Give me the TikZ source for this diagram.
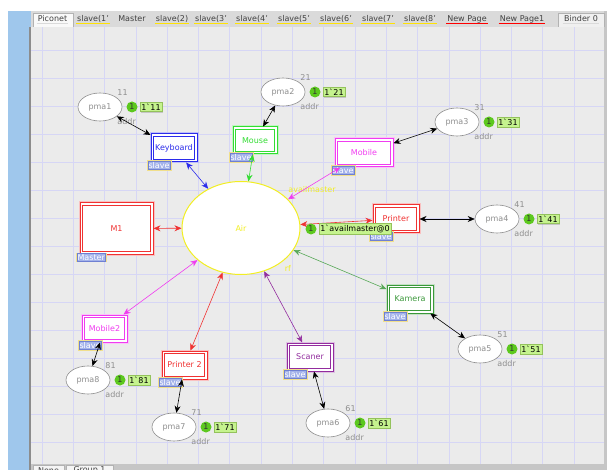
\documentclass[tikz,border=0pt]{standalone}
\usepackage{fontspec}
\setmainfont{DejaVu Sans}
\usepackage{tikz}
\usetikzlibrary{shapes,arrows.meta,positioning,shadows}

\definecolor{canvasbg}{HTML}{EBEBEB}
\definecolor{gridcol}{HTML}{D6D6F5}
\definecolor{panelblue}{HTML}{9FC7EC}
\definecolor{tabbar}{HTML}{DADADA}
\definecolor{airyellow}{HTML}{F2EE22}
\definecolor{tagfill}{HTML}{A3B2EA}
\definecolor{tagline}{HTML}{6F80D2}
\definecolor{tagglow}{HTML}{F1DF8C}
\definecolor{tokfill}{HTML}{5CC81E}
\definecolor{markfill}{HTML}{C5F38E}
\definecolor{markline}{HTML}{94C25C}
\definecolor{placegray}{HTML}{8E8E8E}
\definecolor{kbdblue}{HTML}{2B2BEB}
\definecolor{mousegreen}{HTML}{33DD33}
\definecolor{mobmagenta}{HTML}{F03CF0}
\definecolor{prnred}{HTML}{F03232}
\definecolor{kamgreen}{HTML}{3A983A}
\definecolor{scanpurple}{HTML}{922C9E}

\tikzset{
  place/.style={ellipse, draw=placegray, line width=0.6pt, fill=white, text=placegray, minimum width=44pt, minimum height=28pt, inner sep=0pt},
  subst/.style={rectangle, draw=#1, line width=1pt, fill=white, text=#1, minimum width=46pt, minimum height=28pt, inner sep=1pt,
    preaction={draw=#1!30, line width=3pt},
    path picture={\draw[#1, line width=0.6pt] ([shift={(2.3pt,-2.3pt)}]path picture bounding box.north west) rectangle ([shift={(-2.3pt,2.3pt)}]path picture bounding box.south east);}},
  tag/.style={fill=tagfill, draw=tagline, text=white, inner sep=0.8pt, line width=0.5pt, anchor=west, preaction={draw=tagglow, line width=2.4pt}},
  lbl/.style={text=placegray, inner sep=1.5pt},
  tok/.style={circle, fill=tokfill, inner sep=0pt, minimum size=11pt, text=black!80},
  marking/.style={fill=markfill, draw=markline, inner sep=1.5pt, line width=0.4pt, drop shadow={shadow xshift=1pt, shadow yshift=-1pt, opacity=0.35}},
  arc/.style={{Stealth[length=7pt,width=6pt]}-{Stealth[length=7pt,width=6pt]}, line width=0.6pt},
  tabtext/.style={text=black!75, inner sep=1pt}
}

\begin{document}
\begin{tikzpicture}[x=1pt, y=-1pt, font=\fontsize{8}{9.5}\selectfont]
    \useasboundingbox (0,0) rectangle (607,470);
    \clip (0,0) rectangle (607,470);
    % window frame and canvas
    \fill[white] (0,0) rectangle (607,470);
    \fill[panelblue] (8,11) rectangle (31,470);
    \fill[black!45] (29,27) rectangle (31,470);
    \fill[canvasbg] (31,27) rectangle (604,464);
    \draw[gridcol, shift={(10.5,22)}, xstep=31.3pt, ystep=28pt] (20.5,5) grid (593.5,442);
    \fill[gray!45] (604,11) rectangle (607,470);

    % page tabs
    \fill[tabbar] (31,11) rectangle (604,27);
    \draw[gray!60, fill=gray!5] (33,27) -- (33,13) -- (73,13) -- (73,27);
    \draw[gray!60, fill=gray!12] (558,27) -- (558,13) -- (604,13) -- (604,27);
    \foreach \x/\t/\c [count=\i] in {52.5/Piconet/tabbar, 93/slave(1'/yellow!85!orange, 132/Master/tabbar,
        172/slave(2)/yellow!85!orange, 211/slave(3'/yellow!85!orange, 252/slave(4'/yellow!85!orange,
        294/slave(5'/yellow!85!orange, 336/slave(6'/yellow!85!orange, 378/slave(7'/yellow!85!orange,
        420/slave(8'/yellow!85!orange, 467/New Page/red, 522/New Page1/red, 581/Binder 0/tabbar} {
      \node[tabtext] (tab\i) at (\x,19) {\t};
      \draw[\c, line width=1pt] (tab\i.south west) -- (tab\i.south east);
    }

    % group tabs at the bottom
    \fill[gray!45] (31,464) rectangle (604,470);
    \draw[gray!60, fill=gray!8] (33,470) -- (33,465) -- (64,465) -- (64,470);
    \draw[gray!60, fill=gray!8] (66,470) -- (66,465) -- (113,465) -- (113,470);
    \node[tabtext] (none) at (48.5,470.5) {None};
    \node[tabtext] (grp) at (89.5,470.5) {Group 1};

    % shared medium
    \node[ellipse, draw=airyellow, line width=1pt, fill=white, text=airyellow, minimum width=118pt, minimum height=93pt] (air) at (241,228) {Air};
    \node[text=airyellow, inner sep=0pt] (airtype) at (312,190) {availmaster};
    \node[text=airyellow, inner sep=0pt] (airfus) at (288,268) {rf};

    % master and slave devices
    \node[subst=prnred, minimum width=73pt, minimum height=51pt] (m1) at (116.5,228.5) {M1};
    \node[subst=kbdblue] (kbd) at (174,148) {Keyboard};
    \node[subst=mousegreen, minimum width=44pt, minimum height=27pt] (mouse) at (255,140.5) {Mouse};
    \node[subst=mobmagenta, minimum width=58pt] (mobile) at (364,153) {Mobile};
    \node[subst=prnred] (printer) at (396,219) {Printer};
    \node[subst=kamgreen] (kamera) at (410,299) {Kamera};
    \node[subst=scanpurple] (scaner) at (310,357) {Scaner};
    \node[subst=prnred, minimum width=45pt] (printer2) at (184.5,365) {Printer 2};
    \node[subst=mobmagenta, minimum width=45pt, minimum height=27pt] (mobile2) at (104.5,328.5) {Mobile2};

    \node[tag] (m1tag) at ([shift={(-3,3)}]m1.south west) {Master};
    \node[tag] (kbdtag) at ([shift={(-3,3)}]kbd.south west) {slave};
    \node[tag] (mousetag) at ([shift={(-3,3)}]mouse.south west) {slave};
    \node[tag] (mobiletag) at ([shift={(-3,3)}]mobile.south west) {slave};
    \node[tag] (printertag) at ([shift={(-3,3)}]printer.south west) {slave};
    \node[tag] (kameratag) at ([shift={(-3,3)}]kamera.south west) {slave};
    \node[tag] (scanertag) at ([shift={(-3,3)}]scaner.south west) {slave};
    \node[tag] (printer2tag) at ([shift={(-3,3)}]printer2.south west) {slave};
    \node[tag] (mobile2tag) at ([shift={(-3,3)}]mobile2.south west) {slave};

    % address places
    \node[place] (pma1) at (100,107) {pma1};
    \node[place] (pma2) at (283,92) {pma2};
    \node[place] (pma3) at (457,122) {pma3};
    \node[place] (pma4) at (497,219) {pma4};
    \node[place] (pma5) at (480,349) {pma5};
    \node[place] (pma6) at (328,423) {pma6};
    \node[place] (pma7) at (174,427) {pma7};
    \node[place] (pma8) at (88,380) {pma8};

    \node[lbl, anchor=south west] (num1) at (pma1.north east) {11};
    \node[lbl, anchor=south west] (num2) at (pma2.north east) {21};
    \node[lbl, anchor=south west] (num3) at (pma3.north east) {31};
    \node[lbl, anchor=south west] (num4) at (pma4.north east) {41};
    \node[lbl, anchor=south west] (num5) at (pma5.north east) {51};
    \node[lbl, anchor=south west] (num6) at (pma6.north east) {61};
    \node[lbl, anchor=south west] (num7) at (pma7.north east) {71};
    \node[lbl, anchor=south west] (num8) at (pma8.north east) {81};

    \node[lbl, anchor=north west] (addr1) at (pma1.south east) {addr};
    \node[lbl, anchor=north west] (addr2) at (pma2.south east) {addr};
    \node[lbl, anchor=north west] (addr3) at (pma3.south east) {addr};
    \node[lbl, anchor=north west] (addr4) at (pma4.south east) {addr};
    \node[lbl, anchor=north west] (addr5) at (pma5.south east) {addr};
    \node[lbl, anchor=north west] (addr6) at (pma6.south east) {addr};
    \node[lbl, anchor=north west] (addr7) at (pma7.south east) {addr};
    \node[lbl, anchor=north west] (addr8) at (pma8.south east) {addr};

    % arcs
    \draw[arc] (pma1) -- (kbd);
    \draw[arc] (pma2) -- (mouse);
    \draw[arc] (pma3) -- (mobile);
    \draw[arc] (pma4) -- (printer);
    \draw[arc] (pma5) -- (kamera);
    \draw[arc] (pma6) -- (scaner);
    \draw[arc] (pma7) -- (printer2);
    \draw[arc] (pma8) -- (mobile2);
    \draw[arc, prnred] (m1) -- (air);
    \draw[arc, kbdblue] (kbd) -- (air);
    \draw[arc, mousegreen] (mouse) -- (air);
    \draw[arc, mobmagenta] (mobile) -- (air);
    \draw[arc, prnred] (printer) -- (air);
    \draw[arc, kamgreen!85!white] (kamera) -- (air);
    \draw[arc, scanpurple] (scaner) -- (air);
    \draw[arc, prnred] (printer2) -- (air);
    \draw[arc, mobmagenta] (mobile2) -- (air);

    % current markings
    \node[tok] (tok0) at (311,229) {1};
    \node[marking, right=2pt of tok0] (mk0) {1\textasciigrave availmaster@0};
    \node[tok, right=4pt of pma1] (tok1) {1};
    \node[marking, right=2pt of tok1] (mk1) {1\textasciigrave 11};
    \node[tok, right=4pt of pma2] (tok2) {1};
    \node[marking, right=2pt of tok2] (mk2) {1\textasciigrave 21};
    \node[tok, right=4pt of pma3] (tok3) {1};
    \node[marking, right=2pt of tok3] (mk3) {1\textasciigrave 31};
    \node[tok, right=4pt of pma4] (tok4) {1};
    \node[marking, right=2pt of tok4] (mk4) {1\textasciigrave 41};
    \node[tok, right=4pt of pma5] (tok5) {1};
    \node[marking, right=2pt of tok5] (mk5) {1\textasciigrave 51};
    \node[tok, right=4pt of pma6] (tok6) {1};
    \node[marking, right=2pt of tok6] (mk6) {1\textasciigrave 61};
    \node[tok, right=4pt of pma7] (tok7) {1};
    \node[marking, right=2pt of tok7] (mk7) {1\textasciigrave 71};
    \node[tok, right=4pt of pma8] (tok8) {1};
    \node[marking, right=2pt of tok8] (mk8) {1\textasciigrave 81};
\end{tikzpicture}
\end{document}
